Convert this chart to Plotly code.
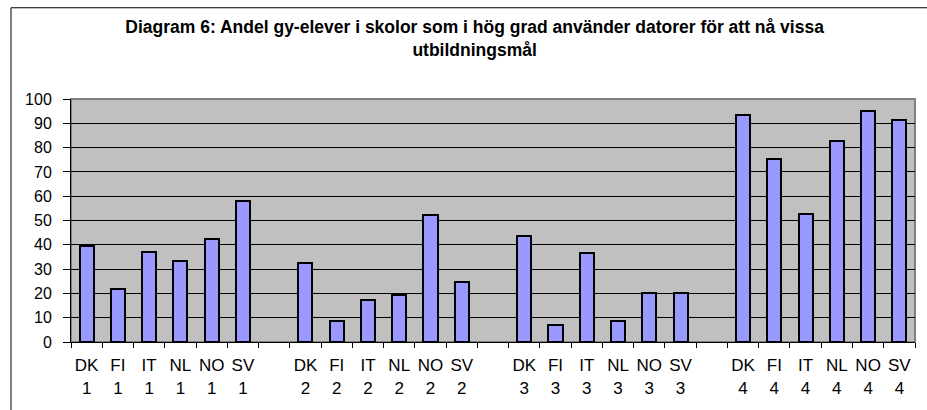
import plotly.graph_objects as go

countries = ["DK", "FI", "IT", "NL", "NO", "SV"]
mal_1 = [39.4, 21.8, 36.9, 33.2, 42.3, 58.2]
mal_2 = [32.4, 8.8, 17.3, 19.5, 52.2, 24.7]
mal_3 = [43.8, 7.0, 36.8, 8.6, 20.1, 20.1]
mal_4 = [93.3, 75.2, 52.7, 82.6, 94.9, 91.2]

groups = [("1", mal_1), ("2", mal_2), ("3", mal_3), ("4", mal_4)]

# build the category axis with an empty slot between the groups
labels, values = [], []
for i, (g, vals) in enumerate(groups):
    if i > 0:
        labels.append("")
        values.append(None)
    for c, v in zip(countries, vals):
        labels.append(c + "<br>" + g)
        values.append(v)
pos = list(range(len(labels)))

font = "Arial, Liberation Sans, sans-serif"

fig = go.Figure(go.Bar(
    x=pos, y=values,
    width=0.45,
    marker=dict(color="#9999FF", line=dict(color="black", width=2)),
    hoverinfo="y",
))

fig.update_layout(
    width=927, height=410,
    margin=dict(l=71, r=12, t=99, b=66),
    paper_bgcolor="white",
    plot_bgcolor="#C0C0C0",
    showlegend=False,
    font=dict(family=font, size=15, color="black"),
    title=dict(
        text="<b>Diagram 6: Andel gy-elever i skolor som i hög grad använder datorer för att nå vissa<br>utbildningsmål</b>",
        x=0.512, xanchor="center", xref="container",
        y=1 - 33 / 410, yanchor="top", yref="container",
        font=dict(family=font, size=17.5),
    ),
    bargap=0,
)

fig.update_xaxes(
    range=[-0.5, len(labels) - 0.5],
    tickmode="array", tickvals=pos, ticktext=labels,
    ticks="", showgrid=False, zeroline=False,
    showline=True, linecolor="black", linewidth=1,
    tickfont=dict(size=17),
    ticklabelstandoff=8,
    minor=dict(tickvals=[p - 0.5 for p in pos] + [len(labels) - 0.5],
               ticks="outside", ticklen=5, tickcolor="black", showgrid=False),
)
fig.update_yaxes(
    range=[0, 100], dtick=10,
    ticks="outside", ticklen=7, tickcolor="black",
    showgrid=True, gridcolor="black", gridwidth=1,
    zeroline=False,
    showline=True, linecolor="black", linewidth=1,
    tickfont=dict(size=16),
    ticklabelstandoff=8,
)

# grey plot area frame on top/right, like the original
fig.add_shape(type="rect", xref="paper", yref="paper", x0=0, x1=1, y0=0, y1=1,
              line=dict(color="#808080", width=2), layer="below")
# chart area border (cut off at the right and bottom)
fig.add_shape(type="rect", xref="paper", yref="paper",
              x0=(11 - 71) / 844, x1=1.2, y0=-1.0, y1=1 + (99 - 7) / 245,
              line=dict(color="black", width=1))

# page without the default body margin so the chart fills the window
fig.write_html("out.html", config={"displayModeBar": False},
               post_script="document.body.style.margin='0';")
